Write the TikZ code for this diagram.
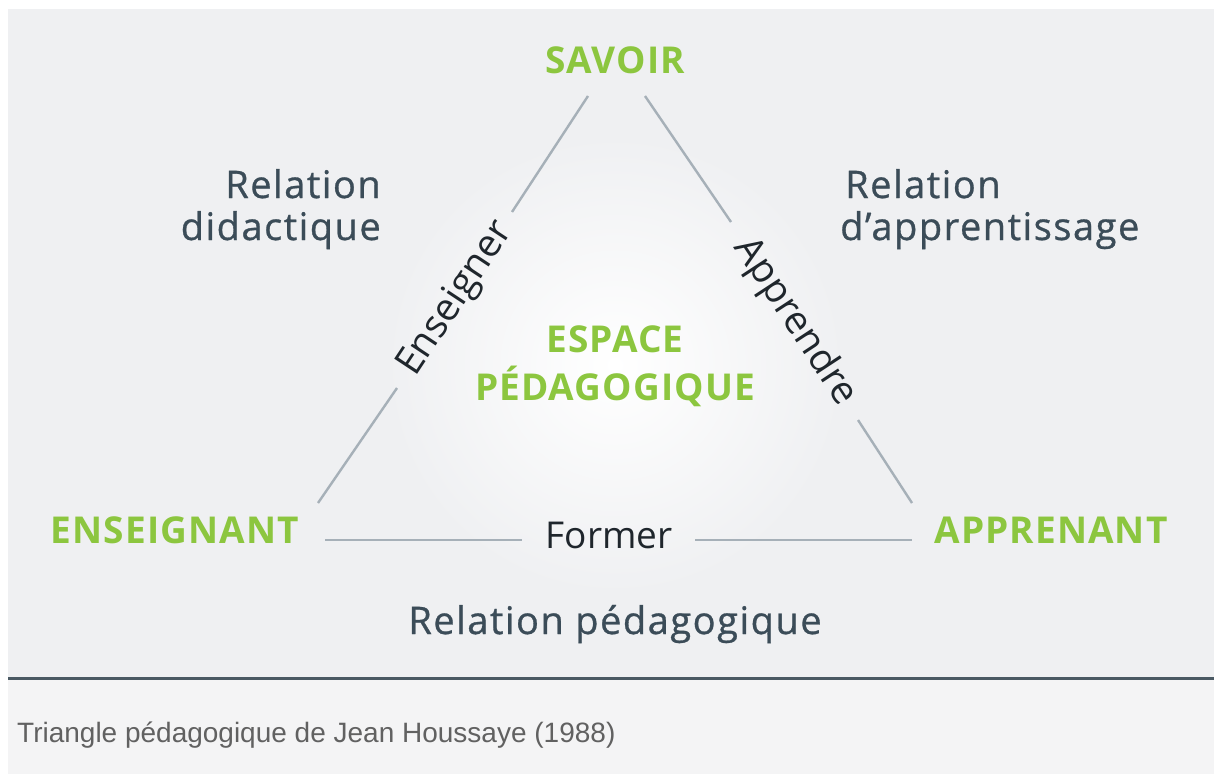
\documentclass[tikz,border=0pt]{standalone}
\usepackage{fontspec}
\setmainfont{Open Sans}
\newfontfamily\polefont{Open Sans}[LetterSpace=3]
\newfontfamily\relfont{Open Sans}[LetterSpace=4,FakeBold=0.8]
\newfontfamily\capfont{Liberation Sans}
\definecolor{bgmain}{HTML}{EFF0F2}
\definecolor{bgcap}{HTML}{F4F4F5}
\definecolor{leaf}{HTML}{8CC63F}
\definecolor{slate}{HTML}{3B4C58}
\definecolor{ink}{HTML}{1F262C}
\definecolor{edge}{HTML}{A6B0B8}
\definecolor{rule}{HTML}{4A5963}
\begin{document}
\begin{tikzpicture}[x=1pt,y=-1pt,
  pole/.style={text=leaf,font=\polefont\bfseries\fontsize{37}{42}\selectfont,inner sep=0pt,anchor=base},
  rel/.style={text=slate,font=\relfont\fontsize{38}{44}\selectfont,inner sep=0pt},
  verb/.style={text=ink,font=\fontsize{38.5}{44}\selectfont,inner sep=0pt},
  side/.style={draw=edge,line width=2.4pt}]
\useasboundingbox (0,0) rectangle (1214,774);
\fill[white] (0,0) rectangle (1214,774);
\fill[bgmain] (8,9) rectangle (1214,677);
\fill[bgcap] (8,680) rectangle (1214,774);
\draw[rule,line width=3pt] (8,678.5) -- (1214,678.5);
\shade[inner color=white,outer color=bgmain] (615,365) circle (230);
% poles
\node[pole] (sav) at (615,73) {SAVOIR};
\node[pole] (ens) at (175,543) {ENSEIGNANT};
\node[pole] (app) at (1051,543) {APPRENANT};
% edge ends
\coordinate (A1) at (588,96);  \coordinate (A2) at (512,212);
\coordinate (A3) at (397,388); \coordinate (A4) at (318,503);
\coordinate (B1) at (645,96);  \coordinate (B2) at (731,222);
\coordinate (B3) at (858,420); \coordinate (B4) at (912,503);
\coordinate (C1) at (325,540); \coordinate (C2) at (522,540);
\coordinate (C3) at (695,540); \coordinate (C4) at (912,540);
\draw[side] (A1) -- (A2) (A3) -- (A4);
\draw[side] (B1) -- (B2) (B3) -- (B4);
\draw[side] (C1) -- (C2) (C3) -- (C4);
% edge labels
\node[verb,rotate=56.5] (ensg) at (456,299) {Enseigner};
\node[verb,rotate=-56.7] (appr) at (795,322) {Apprendre};
\node[verb,anchor=base,font=\fontsize{37}{44}\selectfont] (form) at (609,548) {Former};
% center
\node[pole] (esp1) at (615,352) {ESPACE};
\node[pole] (esp2) at (615,400) {PÉDAGOGIQUE};
% relations
\node[rel,anchor=base east] (rdid1) at (381,198) {Relation};
\node[rel,anchor=base east] (rdid2) at (381,240) {didactique};
\node[rel,anchor=base west] (rapp1) at (845,198) {Relation};
\node[rel,anchor=base west] (rapp2) at (840,240) {d’apprentissage};
\node[rel,anchor=base] (rped) at (615,634) {Relation pédagogique};
% caption
\node[text=black!62,font=\capfont\fontsize{28}{32}\selectfont,anchor=base west,inner sep=0pt] (cap) at (17,742) {Triangle pédagogique de Jean Houssaye (1988)};
\end{tikzpicture}
\end{document}
